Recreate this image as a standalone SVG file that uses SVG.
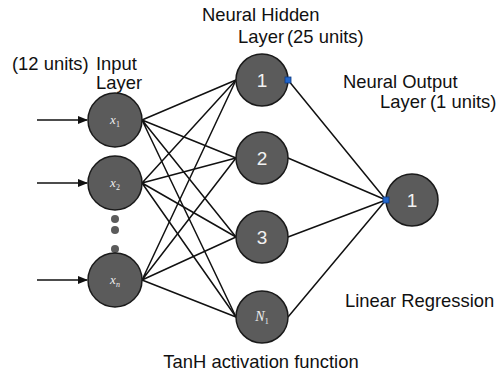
<svg xmlns="http://www.w3.org/2000/svg" width="496" height="376" viewBox="0 0 496 376">
<style>
.node{fill:#5b5b5b;stroke:#1a1a1a;stroke-width:1.5}
.lbl{font-family:"Liberation Sans",Arial,sans-serif;font-size:18.4px;fill:#111}
.num{font-family:"Liberation Sans",Arial,sans-serif;font-size:19px;fill:#f2f2f2;text-anchor:middle}
.var{font-family:"Liberation Serif","Times New Roman",serif;font-style:italic;font-size:13px;fill:#eeeeee;text-anchor:middle}
.sub{font-size:8px;font-style:normal}
.ln{stroke:#111;stroke-width:1.5;fill:none}
.dot{fill:#5b5b5b}
.pin{fill:#2266cc;stroke:#0d3b80;stroke-width:0.8}
</style>
<defs>
<marker id="arr" markerWidth="10" markerHeight="8" refX="9" refY="4" orient="auto" markerUnits="userSpaceOnUse">
<path d="M0,0 L10,4 L0,8 Z" fill="#111"/>
</marker>
</defs>
<g id="connectors">
<line class="ln" x1="37" y1="120" x2="87" y2="120" marker-end="url(#arr)"/>
<line class="ln" x1="37" y1="183" x2="87" y2="183" marker-end="url(#arr)"/>
<line class="ln" x1="37" y1="280" x2="87" y2="280" marker-end="url(#arr)"/>
<g class="ln">
<path d="M142,120 L236,80 M142,120 L236,158 M142,120 L236,237 M142,120 L236,317"/>
<path d="M142,183 L236,80 M142,183 L236,158 M142,183 L236,237 M142,183 L236,317"/>
<path d="M142,280 L236,80 M142,280 L236,158 M142,280 L236,237 M142,280 L236,317"/>
<path d="M288,80 L386,200 M288,158 L386,200 M288,237 L386,200 M288,317 L386,200"/>
</g>
</g>
<g id="input-x1"><circle class="node" cx="115" cy="120" r="27"/><text class="var" x="115" y="124">x<tspan class="sub" dy="3">1</tspan></text></g>
<g id="input-x2"><circle class="node" cx="115" cy="183" r="27"/><text class="var" x="115" y="187">x<tspan class="sub" dy="3">2</tspan></text></g>
<g id="input-dots"><circle class="dot" cx="115" cy="219" r="4"/><circle class="dot" cx="115" cy="230" r="4"/><circle class="dot" cx="115" cy="249" r="4"/></g>
<g id="input-xn"><circle class="node" cx="115" cy="280" r="27"/><text class="var" x="115" y="284">x<tspan class="sub" dy="3" style="font-style:italic">n</tspan></text></g>
<g id="hidden-1"><circle class="node" cx="262" cy="80" r="26"/><text class="num" x="262" y="87">1</text></g>
<g id="hidden-2"><circle class="node" cx="262" cy="158" r="26"/><text class="num" x="262" y="165">2</text></g>
<g id="hidden-3"><circle class="node" cx="262" cy="237" r="26"/><text class="num" x="262" y="244">3</text></g>
<g id="hidden-n1"><circle class="node" cx="262" cy="317" r="26"/><text class="var" x="262" y="321" style="font-size:14px">N<tspan class="sub" dy="3">1</tspan></text></g>
<g id="output-1"><circle class="node" cx="412" cy="200" r="26"/><text class="num" x="412" y="207">1</text></g>
<rect class="pin" x="285" y="77" width="6" height="6"/>
<rect class="pin" x="383" y="197" width="6" height="6"/>
<g id="labels">
<text class="lbl" x="202" y="21">Neural Hidden</text>
<text class="lbl" x="238" y="43">Layer</text>
<text class="lbl" x="287" y="43">(25 units)</text>
<text class="lbl" x="12" y="70">(12 units)</text>
<text class="lbl" x="96" y="70">Input</text>
<text class="lbl" x="96" y="89">Layer</text>
<text class="lbl" x="343" y="88">Neural Output</text>
<text class="lbl" x="380" y="108">Layer</text>
<text class="lbl" x="430" y="108">(1 units)</text>
<text class="lbl" x="345" y="307">Linear Regression</text>
<text class="lbl" x="261" y="368" text-anchor="middle">TanH activation function</text>
</g>
</svg>
